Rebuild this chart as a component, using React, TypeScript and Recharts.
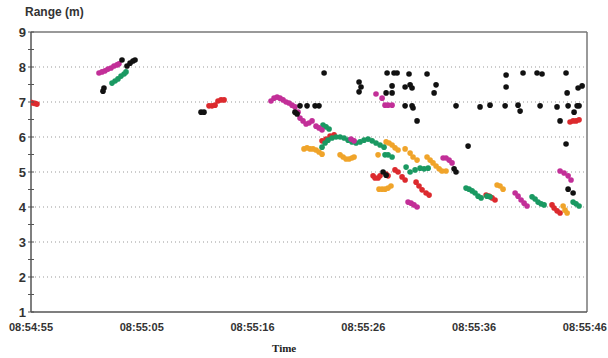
import React from 'react';
import { ScatterChart, Scatter, XAxis, YAxis, ReferenceLine } from 'recharts';

// time in seconds after 08:54:55.2, range in metres
const xTickValues = [0, 10.2, 20.4, 30.6, 40.8, 51.0];
const xTickLabels = ['08:54:55', '08:55:05', '08:55:16', '08:55:26', '08:55:36', '08:55:46'];
const yTickValues = [1, 1.5, 2, 2.5, 3, 3.5, 4, 4.5, 5, 5.5, 6, 6.5, 7, 7.5, 8, 8.5, 9];
const gridValues = [2, 3, 4, 5, 6, 7, 8];

const redSeries: [number, number][] = [
  [0, 6.99], [0.18, 6.97], [0.37, 6.96], [0.55, 6.94],
  [16.39, 6.89], [16.67, 6.89], [16.95, 6.91], [17.22, 7.03], [17.5, 7.06], [17.78, 7.06],
  [26.8, 5.89], [27.17, 5.94], [27.54, 6.03], [27.91, 6.06],
  [31.5, 4.89], [31.68, 4.83], [31.96, 4.83], [32.14, 4.89], [32.7, 4.94], [32.88, 4.89],
  [33.52, 5.06], [33.8, 5.0], [34.17, 4.86], [34.45, 4.77],
  [35.46, 4.71], [35.73, 4.6], [36.01, 4.49], [36.38, 4.4], [36.66, 4.34],
  [41.91, 4.34], [42.18, 4.31], [42.46, 4.26], [42.73, 4.2],
  [47.98, 4.06], [48.17, 3.97], [48.44, 3.89], [48.72, 3.83],
  [49.64, 6.43], [49.92, 6.46], [50.19, 6.46], [50.47, 6.49],
];

const magentaSeries: [number, number][] = [
  [6.26, 7.83], [6.54, 7.86], [6.82, 7.89], [7.09, 7.94], [7.37, 7.97], [7.64, 8.03], [7.92, 8.06], [8.1, 8.09],
  [22.1, 7.03], [22.38, 7.11], [22.66, 7.14], [22.93, 7.11], [23.21, 7.06], [23.49, 7.0], [23.76, 6.97],
  [24.04, 6.91], [24.31, 6.86], [24.59, 6.71], [24.77, 6.54], [25.05, 6.46], [25.33, 6.37], [25.6, 6.4],
  [25.88, 6.46], [26.25, 6.31], [26.52, 6.26], [26.8, 6.2],
  [29.47, 5.94], [29.75, 5.89],
  [31.77, 7.23], [32.33, 7.11], [32.6, 6.91], [32.88, 6.91], [33.25, 6.91],
  [34.72, 4.14], [35.0, 4.11], [35.27, 4.06], [35.55, 4.0],
  [37.95, 5.4], [38.22, 5.4], [38.5, 5.34], [38.77, 5.26],
  [44.58, 4.4], [44.85, 4.31], [45.13, 4.2], [45.41, 4.11], [45.68, 4.03],
  [48.72, 5.03], [49.09, 4.97], [49.46, 4.89], [49.73, 4.77],
];

const greenSeries: [number, number][] = [
  [7.46, 7.54], [7.74, 7.6], [8.01, 7.66], [8.29, 7.74], [8.57, 7.8], [8.75, 7.86],
  [26.89, 6.34], [27.17, 6.29], [27.45, 6.23],
  [26.8, 5.71], [27.08, 5.83], [27.35, 5.91], [27.72, 5.97], [28.09, 6.0], [28.46, 6.0], [28.83, 5.97],
  [29.2, 5.91], [29.56, 5.86], [29.93, 5.83], [30.3, 5.86], [30.67, 5.91], [31.04, 5.94], [31.41, 5.89],
  [31.77, 5.83], [32.14, 5.77], [32.51, 5.71],
  [32.6, 5.49], [32.88, 5.49], [33.25, 5.43],
  [34.54, 5.14], [34.91, 5.0], [35.37, 5.06], [35.83, 5.11], [36.2, 5.09], [36.57, 5.11],
  [40.06, 4.54], [40.34, 4.51], [40.62, 4.46], [40.89, 4.4], [41.17, 4.31], [41.45, 4.26],
  [41.99, 4.31], [42.27, 4.29],
  [46.14, 4.29], [46.42, 4.23], [46.69, 4.14], [46.97, 4.09], [47.25, 4.06],
  [49.92, 4.14], [50.19, 4.09], [50.47, 4.03],
];

const orangeSeries: [number, number][] = [
  [25.14, 5.66], [25.42, 5.69], [25.7, 5.66], [25.97, 5.66], [26.25, 5.63], [26.52, 5.57], [26.8, 5.51],
  [28.46, 5.49], [28.74, 5.43], [29.01, 5.37], [29.29, 5.37], [29.56, 5.4], [29.75, 5.43],
  [31.96, 5.49],
  [32.05, 4.51], [32.33, 4.51], [32.6, 4.51], [32.88, 4.54], [33.15, 4.6],
  [32.7, 5.86], [32.97, 5.83], [33.25, 5.77], [33.52, 5.69], [33.8, 5.63],
  [34.45, 5.66], [34.91, 5.54], [35.18, 5.43], [35.55, 5.34],
  [36.47, 5.43], [36.75, 5.34], [37.02, 5.26], [37.3, 5.17], [37.58, 5.09], [37.85, 5.03], [38.22, 5.03],
  [42.92, 4.63], [43.19, 4.6], [43.47, 4.51],
  [49.0, 4.03], [49.18, 3.91], [49.37, 3.83],
];

const blackSeries: [number, number][] = [
  [6.63, 7.31], [6.72, 7.4], [8.38, 8.2], [8.84, 8.03], [9.12, 8.11], [9.39, 8.17], [9.58, 8.2],
  [15.66, 6.71], [15.93, 6.71],
  [24.31, 6.71], [24.5, 6.66], [24.77, 6.89], [25.42, 6.89], [26.16, 6.89], [26.52, 6.89],
  [26.99, 7.83], [30.21, 7.57], [30.39, 7.43], [30.21, 7.29],
  [32.42, 5.0], [32.7, 4.91],
  [32.79, 7.83], [33.43, 7.83], [33.71, 7.83], [34.81, 7.8], [36.47, 7.8],
  [33.25, 7.46], [33.25, 7.26], [32.7, 7.26], [34.45, 7.43], [34.91, 7.49], [35.09, 7.4],
  [37.3, 7.49], [37.12, 7.26], [34.45, 6.89], [35.09, 6.89], [35.18, 6.83], [35.55, 6.46],
  [39.14, 6.89], [40.25, 5.74], [41.35, 6.86], [42.27, 6.91], [43.66, 6.89], [43.75, 7.43], [43.75, 7.77],
  [44.85, 6.91], [45.04, 6.74], [45.31, 7.83], [46.6, 7.83], [47.06, 7.8], [46.88, 6.89],
  [48.44, 6.86], [48.72, 6.46], [49.27, 7.83], [49.37, 7.26], [49.27, 5.8], [49.46, 6.89],
  [50.01, 6.71], [50.29, 6.89], [50.47, 6.89], [50.38, 7.4], [50.75, 7.46],
  [38.96, 5.09], [39.14, 5.0], [49.46, 4.51], [49.92, 4.4],
];

const toPoints = (s: [number, number][]) => s.map(([t, v]) => ({ t, v }));

const dot = (color: string) => (p: any) => (
  <circle cx={p.cx} cy={p.cy} r={2.8} fill={color} />
);

const YTick = (props: any) => {
  const { x, y, payload } = props;
  const axisX = x + 5;
  const isMajor = Number.isInteger(payload.value);
  return (
    <g>
      <line x1={axisX - 3} x2={axisX + 3} y1={y} y2={y} stroke="#555" strokeWidth={1} />
      {isMajor && (
        <text x={axisX - 5} y={y} dy="0.36em" textAnchor="end" fontSize={13} fontWeight="bold"
          fontFamily="Liberation Sans, Arial, sans-serif" fill="#333">
          {payload.value}
        </text>
      )}
    </g>
  );
};

export default function App() {
  return (
    <div style={{ position: 'absolute', left: 0, top: 0, width: 608, height: 358, background: '#fff' }}>
      <div style={{ position: 'absolute', left: 25, top: 5, fontFamily: 'Liberation Sans, Arial, sans-serif',
        fontWeight: 'bold', fontSize: 12, color: '#333' }}>Range (m)</div>
      <ScatterChart width={608} height={358} margin={{ top: 32, right: 21, bottom: 0, left: 0 }}>
        {gridValues.map((g) => (
          <ReferenceLine key={g} y={g} stroke="#999" strokeDasharray="1 3" strokeWidth={1} />
        ))}
        <ReferenceLine y={9} stroke="#777" strokeWidth={1.5} />
        <ReferenceLine x={51.2} stroke="#777" strokeWidth={1.5} />
        <XAxis type="number" dataKey="t" domain={[0, 51.2]} ticks={xTickValues} interval={0}
          allowDataOverflow height={46} tickLine={false} tickSize={0} tickMargin={11}
          axisLine={{ stroke: '#555', strokeWidth: 1.5 }}
          tickFormatter={(v: number) => xTickLabels[xTickValues.indexOf(v)] ?? ''}
          tick={{ fontSize: 11, fontWeight: 'bold', fill: '#333', fontFamily: 'Liberation Sans, Arial, sans-serif' }} />
        <YAxis type="number" dataKey="v" domain={[1, 9]} ticks={yTickValues} interval={0}
          allowDataOverflow width={31} tickLine={false} tickSize={0} tickMargin={5}
          axisLine={{ stroke: '#555', strokeWidth: 1.5 }} tick={<YTick />} />
        <Scatter data={toPoints(redSeries)} shape={dot('#dc2a2e')} isAnimationActive={false} />
        <Scatter data={toPoints(orangeSeries)} shape={dot('#f0a42a')} isAnimationActive={false} />
        <Scatter data={toPoints(greenSeries)} shape={dot('#1a9962')} isAnimationActive={false} />
        <Scatter data={toPoints(magentaSeries)} shape={dot('#c22f98')} isAnimationActive={false} />
        <Scatter data={toPoints(blackSeries)} shape={dot('#111')} isAnimationActive={false} />
      </ScatterChart>
      <div style={{ position: 'absolute', left: 272, top: 342, fontFamily: 'Liberation Serif, Times New Roman, serif',
        fontWeight: 'bold', fontSize: 11, color: '#222' }}>Time</div>
    </div>
  );
}
